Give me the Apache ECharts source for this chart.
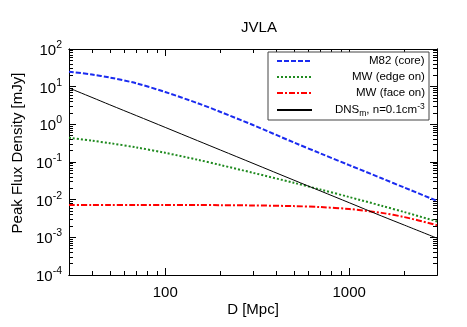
<!DOCTYPE html>
<html>
<head>
<meta charset="utf-8">
<script src="https://cdn.jsdelivr.net/npm/echarts@6/dist/echarts.min.js"></script>
<style>
  html, body { margin: 0; padding: 0; background: #fff; }
  #chart { width: 467px; height: 327px; }
</style>
</head>
<body>
<div id="chart"></div>
<script>
// distance D [Mpc] and peak flux density [mJy]
const dist = [30, 40, 50, 70, 100, 150, 200, 300, 500, 700, 1000, 1500, 2000, 3000];
const m82Core = [25, 21, 17.5, 12.2, 7.2, 3.65, 2.13, 0.96, 0.33, 0.168, 0.0825, 0.037, 0.0208, 0.0093];
const mwEdgeOn = [0.44, 0.368, 0.316, 0.243, 0.175, 0.115, 0.083, 0.0516, 0.028, 0.0185, 0.01175, 0.00689, 0.00466, 0.00264];
const mwFaceOn = [0.0072, 0.0072, 0.0072, 0.0072, 0.0072, 0.00718, 0.00715, 0.00703, 0.00674, 0.00635, 0.00565, 0.00446, 0.00344, 0.0021];
const dnsM = [9.2, 5.18, 3.3, 1.69, 0.83, 0.368, 0.207, 0.092, 0.033, 0.0169, 0.0083, 0.00368, 0.0021, 0.00095];

const xTickLabels = [100, 1000];
const yTickLabels = [1e-4, 1e-3, 1e-2, 1e-1, 1e0, 1e1, 1e2];

const font = "Liberation Sans";
const legendFont = 11.5;
const legendSubFont = 8.5;
const legendTextWidth = 108;

// log minor tick positions (2..9 per decade) inside [lo, hi]
function minorTicks(lo, hi) {
  const out = [];
  for (let e = -5; e <= 4; e++) {
    for (let k = 2; k <= 9; k++) {
      const v = k * Math.pow(10, e);
      if (v > lo * 1.0001 && v < hi * 0.9999) out.push(v);
    }
  }
  return out;
}

function pairs(ys) {
  return dist.map((d, i) => [d, ys[i]]);
}

// text width, used to right-align legend labels (gnuplot style)
const measureCtx = document.createElement("canvas").getContext("2d");
function textW(str, size) {
  measureCtx.font = size + "px " + font;
  return measureCtx.measureText(str).width;
}

function legendLabel(name) {
  let w, body;
  if (name === "DNS_m") {
    w = textW("DNS", legendFont) + textW("m", legendSubFont) + textW(", n=0.1cm", legendFont) + textW("-3", legendSubFont);
    body = "{t|DNS}{sub|m}{t|, n=0.1cm}{sup|-3}";
  } else {
    w = textW(name, legendFont);
    body = "{t|" + name + "}";
  }
  const pad = Math.max(0, Math.round(legendTextWidth - w));
  return "{p" + pad + "|}" + body;
}

function xAx(pos, major, showLabel) {
  return {
    type: "log",
    position: pos,
    min: 30,
    max: 3000,
    axisLine: { show: true, onZero: false, lineStyle: { color: "#000", width: 1 } },
    axisTick: {
      inside: true,
      length: major ? 7 : 4,
      lineStyle: { color: "#000" },
      customValues: major ? xTickLabels : minorTicks(30, 3000),
    },
    axisLabel: {
      show: showLabel,
      margin: 10,
      color: "#000",
      fontFamily: font,
      fontSize: 15,
      customValues: xTickLabels,
      formatter: (v) => String(Math.round(v)),
    },
    splitLine: { show: false },
  };
}

function yAx(pos, major, showLabel) {
  return {
    type: "log",
    position: pos,
    min: 1e-4,
    max: 1e2,
    axisLine: { show: true, onZero: false, lineStyle: { color: "#000", width: 1 } },
    axisTick: {
      inside: true,
      length: major ? 7 : 4,
      lineStyle: { color: "#000" },
      customValues: major ? yTickLabels : minorTicks(1e-4, 1e2),
    },
    axisLabel: {
      show: showLabel,
      margin: 7,
      color: "#000",
      fontFamily: font,
      customValues: yTickLabels,
      formatter: (v) => "{b|10}{s|" + Math.round(Math.log10(v)) + "}",
      rich: {
        b: { fontSize: 15, fontFamily: font, color: "#000", verticalAlign: "bottom" },
        s: { fontSize: 10.5, fontFamily: font, color: "#000", verticalAlign: "bottom", padding: [0, 0, 8, 0] },
      },
    },
    splitLine: { show: false },
  };
}

// rich styles for the legend, including one spacer token per pad width
const legendRich = {
  t: { fontSize: legendFont, fontFamily: font, color: "#000", lineHeight: 14 },
  sub: { fontSize: legendSubFont, fontFamily: font, color: "#000", verticalAlign: "top", padding: [6, 0, 0, 0], lineHeight: 14 },
  sup: { fontSize: legendSubFont, fontFamily: font, color: "#000", verticalAlign: "bottom", padding: [0, 0, 6, 0], lineHeight: 14 },
};
for (let i = 0; i <= legendTextWidth; i++) {
  legendRich["p" + i] = { width: i, lineHeight: 14 };
}

const option = {
  animation: false,
  backgroundColor: "#fff",
  title: {
    text: "JVLA",
    left: 254,
    top: 15,
    textAlign: "center",
    textStyle: { fontFamily: font, fontSize: 15, fontWeight: "normal", color: "#000" },
  },
  grid: { left: 69, right: 30, top: 49, bottom: 52 },
  legend: {
    left: 268,
    top: 52,
    orient: "vertical",
    padding: [2, 4, 2, 8],
    itemWidth: 35,
    itemHeight: 10,
    itemGap: 2,
    borderColor: "#444",
    borderWidth: 1,
    backgroundColor: "#fff",
    itemStyle: { opacity: 0 },
    textStyle: {
      fontFamily: font,
      fontSize: legendFont,
      color: "#000",
      lineHeight: 14,
      rich: legendRich,
    },
    formatter: legendLabel,
  },
  xAxis: [
    xAx("bottom", true, true),
    xAx("bottom", false, false),
    xAx("top", true, false),
    xAx("top", false, false),
  ],
  yAxis: [
    yAx("left", true, true),
    yAx("left", false, false),
    yAx("right", true, false),
    yAx("right", false, false),
  ],
  series: [
    {
      name: "M82 (core)",
      type: "line",
      data: pairs(m82Core),
      symbol: "none",
      smooth: 0.3,
      lineStyle: { color: "#1a2bf0", width: 2, type: [5, 2] },
      itemStyle: { color: "#1a2bf0" },
    },
    {
      name: "MW (edge on)",
      type: "line",
      data: pairs(mwEdgeOn),
      symbol: "none",
      smooth: 0.3,
      lineStyle: { color: "#1f8a1f", width: 2, type: [2, 2] },
      itemStyle: { color: "#1f8a1f" },
    },
    {
      name: "MW (face on)",
      type: "line",
      data: pairs(mwFaceOn),
      symbol: "none",
      smooth: 0.3,
      lineStyle: { color: "#ff0000", width: 2, type: [6, 2, 2, 2] },
      itemStyle: { color: "#ff0000" },
    },
    {
      name: "DNS_m",
      type: "line",
      data: pairs(dnsM),
      symbol: "none",
      smooth: 0.3,
      lineStyle: { color: "#000", width: 1 },
      itemStyle: { color: "#000" },
    },
  ],
};

const chart = echarts.init(document.getElementById("chart"));
chart.setOption(option);

// axis titles drawn as graphic text (gnuplot places them outside the tick labels)
chart.setOption({
  graphic: [
    {
      type: "text",
      x: 253,
      y: 310,
      style: { text: "D [Mpc]", fontFamily: font, fontSize: 15, fill: "#000", align: "center", verticalAlign: "middle" },
    },
    {
      type: "text",
      x: 18,
      y: 153,
      rotation: Math.PI / 2,
      style: { text: "Peak Flux Density [mJy]", fontFamily: font, fontSize: 15, fill: "#000", align: "center", verticalAlign: "middle" },
    },
  ],
});
</script>
</body>
</html>
